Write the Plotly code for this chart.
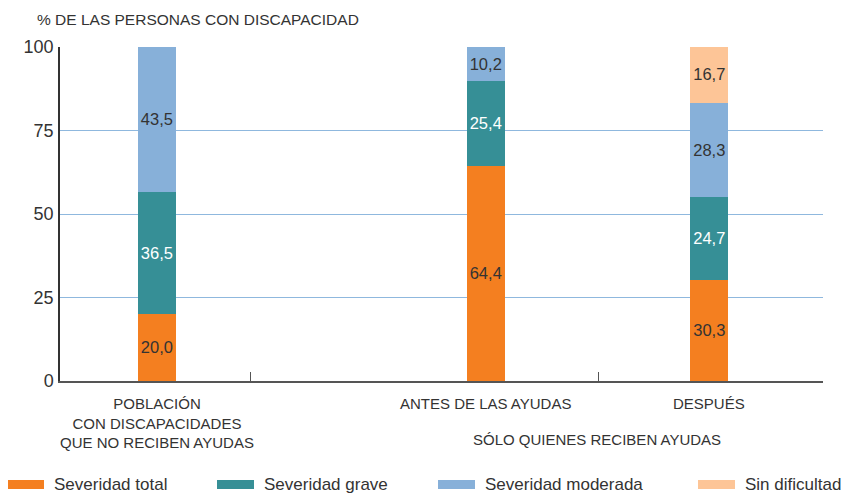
import plotly.graph_objects as go

# ---- data ----
groups = ["POBLACIÓN<br>CON DISCAPACIDADES<br>QUE NO RECIBEN AYUDAS", "ANTES DE LAS AYUDAS", "DESPUÉS"]
series_names = ["Severidad total", "Severidad grave", "Severidad moderada", "Sin dificultad"]
sev_total = [20.0, 64.4, 30.3]
sev_grave = [36.5, 25.4, 24.7]
sev_moderada = [43.5, 10.2, 28.3]
sin_dificultad = [None, None, 16.7]
y_ticks = [0, 25, 50, 75, 100]
group_caption = "SÓLO QUIENES RECIBEN AYUDAS"
y_title = "% DE LAS PERSONAS CON DISCAPACIDAD"

# ---- layout constants (page pixels; the page body adds an 8px offset) ----
OFF = 8
W, H = 849 - OFF, 494 - OFF
L, R, T, B = 60, 823, 47, 381
xpos = [12.7, 55.8, 85.1]          # bar centres on a 0-100 axis
bar_w = 5.0
sep_ticks = [25, 70.6, 100]
colors = ["#F47F20", "#368F96", "#87B0D9", "#FDC597"]
text_colors = ["#333333", "#FFFFFF", "#333333", "#333333"]
FONT = "Liberation Sans, Arial, sans-serif"
TXT = "#333333"

def fmt(v):
    return "" if v is None else f"{v:.1f}".replace(".", ",")

def px_x(px):
    return (px - L) / (R - L)

def px_y(py):
    return (B - py) / (B - T)

fig = go.Figure()
for name, vals, c, tc in zip(series_names, [sev_total, sev_grave, sev_moderada, sin_dificultad], colors, text_colors):
    fig.add_trace(go.Bar(
        x=xpos, y=vals, name=name, width=bar_w,
        marker=dict(color=c, line=dict(width=0)),
        text=[fmt(v) for v in vals], textposition="inside", insidetextanchor="middle",
        textangle=0, textfont=dict(color=tc, size=18, family=FONT),
        showlegend=False, hoverinfo="skip",
    ))

annotations = []
shapes = []
annotations.append(dict(text=y_title, xref="paper", yref="paper", x=px_x(35), y=px_y(20),
                        xanchor="left", yanchor="middle", showarrow=False,
                        font=dict(size=15.5, color=TXT, family=FONT)))
for g, xp in zip(groups, xpos):
    annotations.append(dict(text=g, xref="x", yref="paper", x=xp, y=px_y(393),
                            xanchor="center", yanchor="top", showarrow=False, align="center",
                            font=dict(size=15, color=TXT, family=FONT)))
annotations.append(dict(text=group_caption, xref="paper", yref="paper", x=px_x(597), y=px_y(440),
                        xanchor="center", yanchor="middle", showarrow=False,
                        font=dict(size=15, color=TXT, family=FONT)))
leg_x = [7, 217, 438, 698]
for name, c, lx in zip(series_names, colors, leg_x):
    shapes.append(dict(type="rect", xref="paper", yref="paper",
                       x0=px_x(lx), x1=px_x(lx + 37), y0=px_y(489), y1=px_y(480),
                       fillcolor=c, line=dict(width=0)))
    annotations.append(dict(text=name, xref="paper", yref="paper", x=px_x(lx + 45), y=px_y(484),
                            xanchor="left", yanchor="middle", showarrow=False,
                            font=dict(size=17, color=TXT, family=FONT)))

fig.update_layout(
    width=W, height=H, barmode="stack",
    margin=dict(l=L - OFF, r=849 - R, t=T - OFF, b=494 - B, pad=0),
    paper_bgcolor="white", plot_bgcolor="white",
    font=dict(family=FONT, color=TXT),
    annotations=annotations, shapes=shapes,
    xaxis=dict(range=[0, 100], showgrid=False, zeroline=False,
               tickvals=sep_ticks, ticktext=["" for _ in sep_ticks],
               ticks="inside", ticklen=9, tickcolor="#555555", tickwidth=1,
               showline=True, linecolor="#555555", linewidth=1.5, fixedrange=True),
    yaxis=dict(range=[0, 100], tickvals=y_ticks, ticks="", showgrid=True,
               gridcolor="#8FB8DE", gridwidth=1, zeroline=False,
               showline=True, linecolor="#333333", linewidth=1.5,
               tickfont=dict(size=18, color=TXT, family=FONT), ticklabelstandoff=1,
               fixedrange=True),
)
fig.write_html("out.html")
